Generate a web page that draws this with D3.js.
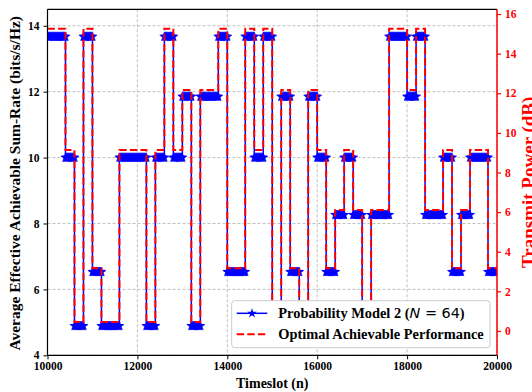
<!DOCTYPE html>
<html>
<head>
<meta charset="utf-8">
<script src="https://cdn.jsdelivr.net/npm/d3@7"></script>
<style>
  html, body { margin: 0; padding: 0; background: #fff; }
  svg { display: block; }
</style>
</head>
<body>
<div id="chart"></div>
<script>
// Segment start timeslots and the transmit power (dB) chosen in each segment
const segStarts = [10000, 10400, 10600, 10800, 11000, 11200, 11600, 12200, 12400, 12600,
                   12800, 13000, 13200, 13400, 13800, 14000, 14400, 14600, 14800, 15000,
                   15200, 15400, 15600, 15800, 16000, 16200, 16400, 16600, 16800, 17000,
                   17200, 17600, 18000, 18200, 18400, 18800, 19000, 19200, 19400, 19800];
const segEnd = 20000;
const powerDb = [15, 9, 0, 15, 3, 0, 9, 0, 9, 15,
                 9, 12, 0, 12, 15, 3, 15, 9, 15, 0,
                 12, 3, 0, 12, 9, 3, 6, 9, 6, 0,
                 6, 15, 12, 15, 6, 9, 3, 6, 9, 3];

// Sum-rate reached at each power level
const powerLevels = [0, 3, 6, 9, 12, 15];
const probRate = [4.89, 6.53, 8.26, 10.0, 11.85, 13.67];
const optRate = [5.01, 6.64, 8.41, 10.23, 12.05, 13.91];

// Tick labels
const xTicks = [10000, 12000, 14000, 16000, 18000, 20000];
const yLeftTicks = [4, 6, 8, 10, 12, 14];
const yRightTicks = [0, 2, 4, 6, 8, 10, 12, 14, 16];

const width = 532, height = 392;
const plot = { left: 47.5, right: 497, top: 9.3, bottom: 355.3 };
const serif = "'Liberation Serif', 'Times New Roman', serif";
const BLUE = "#0000ff", RED = "#ff0000";

const x = d3.scaleLinear().domain([10000, 20000]).range([plot.left, plot.right]);
const yL = d3.scaleLinear().domain([4, 14.5]).range([plot.bottom, plot.top]);
const yR = d3.scaleLinear().domain([-1.23, 16.24]).range([plot.bottom, plot.top]);

const rateOf = (table, db) => table[powerLevels.indexOf(db)];

// Step series: one point per segment start plus the closing point
function stepSeries(table) {
    const pts = segStarts.map((s, i) => ({ t: s, v: rateOf(table, powerDb[i]) }));
    pts.push({ t: segEnd, v: pts[pts.length - 1].v });
    return pts;
}
const probSeries = stepSeries(probRate);
const optSeries = stepSeries(optRate);

// Marker samples along the probability-model curve
const markerStep = 20;
const markers = [];
segStarts.forEach((s, i) => {
    const e = i + 1 < segStarts.length ? segStarts[i + 1] : segEnd;
    for (let t = s; t <= e; t += markerStep) {
        markers.push({ t: t, v: rateOf(probRate, powerDb[i]) });
    }
});

const svg = d3.select("#chart").append("svg")
    .attr("width", width)
    .attr("height", height)
    .style("font-family", serif);

svg.append("defs").append("clipPath").attr("id", "clip")
    .append("rect")
    .attr("x", plot.left).attr("y", plot.top)
    .attr("width", plot.right - plot.left).attr("height", plot.bottom - plot.top);

// Grid
const grid = svg.append("g")
    .attr("stroke", "#b0b0b0")
    .attr("stroke-width", 0.8)
    .attr("stroke-dasharray", "3,2");
grid.selectAll(".gx").data(xTicks).enter().append("line")
    .attr("x1", d => x(d)).attr("x2", d => x(d))
    .attr("y1", plot.top).attr("y2", plot.bottom);
grid.selectAll(".gy").data(yLeftTicks).enter().append("line")
    .attr("x1", plot.left).attr("x2", plot.right)
    .attr("y1", d => yL(d)).attr("y2", d => yL(d));

const lines = svg.append("g").attr("clip-path", "url(#clip)");

const stepLine = d3.line()
    .x(d => x(d.t))
    .y(d => yL(d.v))
    .curve(d3.curveStepAfter);

// Probability model curve with star markers
lines.append("path")
    .datum(probSeries)
    .attr("d", stepLine)
    .attr("fill", "none")
    .attr("stroke", BLUE)
    .attr("stroke-width", 1.5);

const star = d3.symbol().type(d3.symbolStar).size(26);
lines.selectAll(".mk").data(markers).enter().append("path")
    .attr("d", star)
    .attr("transform", d => `translate(${x(d.t)},${yL(d.v)})`)
    .attr("fill", BLUE)
    .attr("stroke", BLUE)
    .attr("stroke-width", 0.6);

// Optimal curve
lines.append("path")
    .datum(optSeries)
    .attr("d", stepLine)
    .attr("fill", "none")
    .attr("stroke", RED)
    .attr("stroke-width", 2)
    .attr("stroke-dasharray", "7.4,3.2");

// Axes
const xAxis = svg.append("g")
    .attr("transform", `translate(0,${plot.bottom})`)
    .call(d3.axisBottom(x).tickValues(xTicks).tickSize(4).tickPadding(3).tickFormat(d3.format("d")));
const yAxisL = svg.append("g")
    .attr("transform", `translate(${plot.left},0)`)
    .call(d3.axisLeft(yL).tickValues(yLeftTicks).tickSize(4).tickPadding(4));
const yAxisR = svg.append("g")
    .attr("transform", `translate(${plot.right},0)`)
    .call(d3.axisRight(yR).tickValues(yRightTicks).tickSize(4).tickPadding(4));

[xAxis, yAxisL, yAxisR].forEach(a => {
    a.select(".domain").remove();
    a.selectAll("text")
        .attr("font-family", serif)
        .attr("font-weight", "bold")
        .attr("font-size", "11.5px");
});
xAxis.selectAll("line").attr("stroke", "#000");
yAxisL.selectAll("line").attr("stroke", "#000");
yAxisL.selectAll("text").attr("fill", "#000");
xAxis.selectAll("text").attr("fill", "#000");
yAxisR.selectAll("line").attr("stroke", RED).attr("stroke-width", 1.2);
yAxisR.selectAll("text").attr("fill", RED);

// Spines
svg.append("line").attr("x1", plot.left).attr("x2", plot.right)
    .attr("y1", plot.top).attr("y2", plot.top).attr("stroke", "#000").attr("stroke-width", 1.2);
svg.append("line").attr("x1", plot.left).attr("x2", plot.right)
    .attr("y1", plot.bottom).attr("y2", plot.bottom).attr("stroke", "#000").attr("stroke-width", 1.2);
svg.append("line").attr("x1", plot.left).attr("x2", plot.left)
    .attr("y1", plot.top).attr("y2", plot.bottom).attr("stroke", "#000").attr("stroke-width", 1.2);
svg.append("line").attr("x1", plot.right).attr("x2", plot.right)
    .attr("y1", plot.top).attr("y2", plot.bottom).attr("stroke", RED).attr("stroke-width", 1.5);

// Axis titles
const midY = (plot.top + plot.bottom) / 2;
svg.append("text")
    .attr("transform", `translate(20,${midY + 1}) rotate(-90)`)
    .attr("text-anchor", "middle")
    .attr("font-weight", "bold")
    .attr("font-size", "15.5px")
    .text("Average Effective Achievable Sum-Rate (bits/s/Hz)");
svg.append("text")
    .attr("transform", `translate(535,${midY}) rotate(-90)`)
    .attr("text-anchor", "middle")
    .attr("font-weight", "bold")
    .attr("font-size", "19px")
    .attr("fill", RED)
    .text("Transmit Power (dB)");
svg.append("text")
    .attr("x", (plot.left + plot.right) / 2)
    .attr("y", 387.5)
    .attr("text-anchor", "middle")
    .attr("font-weight", "bold")
    .attr("font-size", "14px")
    .text("Timeslot (n)");

// Legend
const lg = svg.append("g");
lg.append("rect")
    .attr("x", 231.7).attr("y", 300.7)
    .attr("width", 490 - 231.7).attr("height", 347.7 - 300.7)
    .attr("rx", 3)
    .attr("fill", "#fff")
    .attr("stroke", "#cccccc")
    .attr("stroke-width", 1);

const legendRows = [
    { y: 313.3, color: BLUE, dash: null, marker: true },
    { y: 334.3, color: RED, dash: "7.4,3.2", marker: false }
];
legendRows.forEach(r => {
    lg.append("line")
        .attr("x1", 236.7).attr("x2", 267.3)
        .attr("y1", r.y).attr("y2", r.y)
        .attr("stroke", r.color)
        .attr("stroke-width", r.marker ? 1.5 : 2)
        .attr("stroke-dasharray", r.dash);
    if (r.marker) {
        lg.append("path")
            .attr("d", d3.symbol().type(d3.symbolStar).size(30)())
            .attr("transform", `translate(252,${r.y})`)
            .attr("fill", BLUE);
    }
});

const t1 = lg.append("text")
    .attr("x", 278.3).attr("y", 313.3).attr("dy", "0.35em")
    .attr("font-size", "14.4px");
t1.append("tspan").attr("font-weight", "bold").text("Probability Model 2 (");
t1.append("tspan").attr("font-family", "'DejaVu Sans'").attr("font-style", "italic").text("N");
t1.append("tspan").attr("font-family", "'DejaVu Sans'").text(" = 64");
t1.append("tspan").attr("font-weight", "bold").text(")");

lg.append("text")
    .attr("x", 278.3).attr("y", 334.3).attr("dy", "0.35em")
    .attr("font-size", "14.4px")
    .attr("font-weight", "bold")
    .text("Optimal Achievable Performance");
</script>
</body>
</html>
